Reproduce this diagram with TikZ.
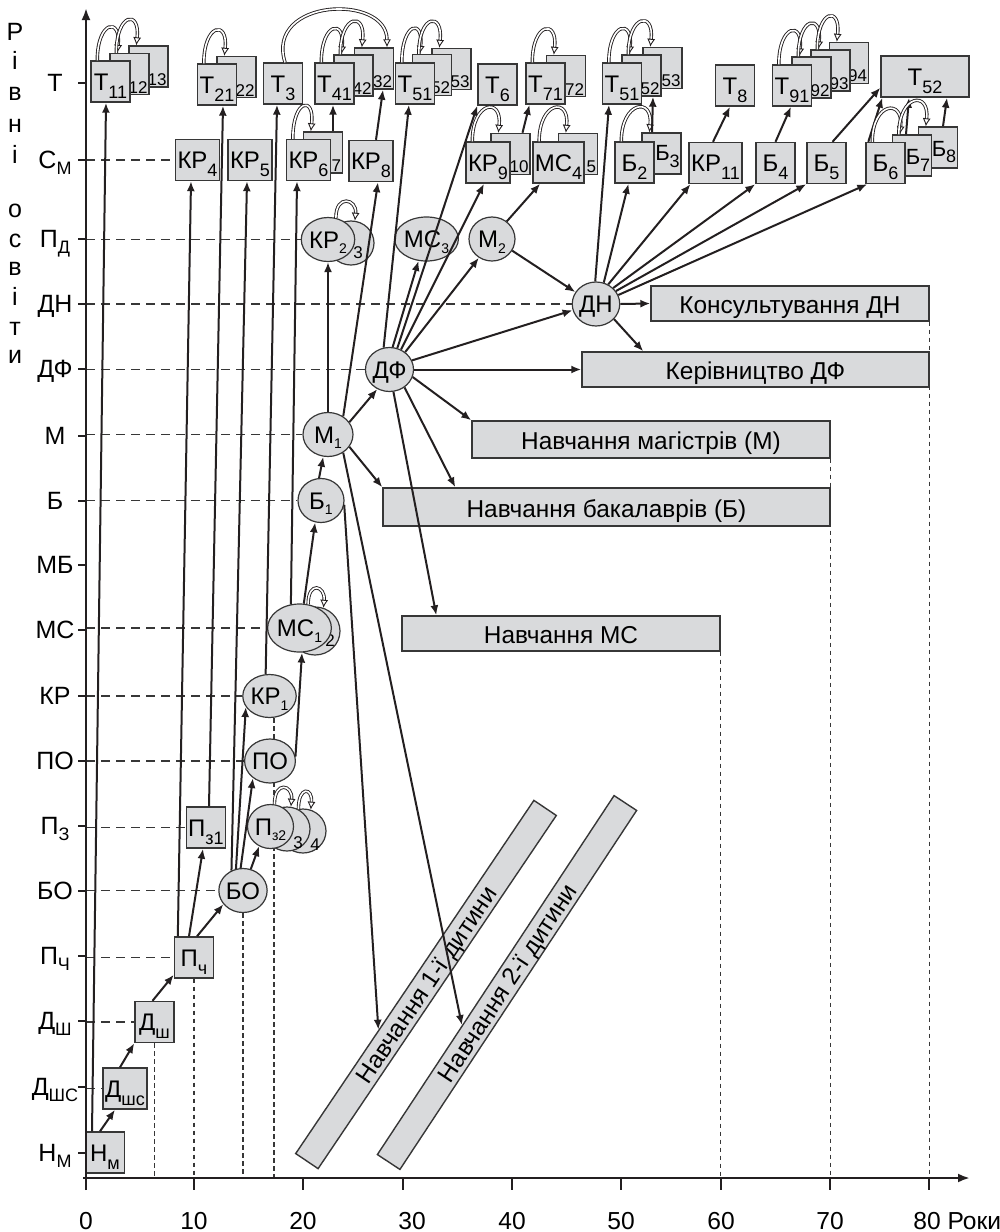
\documentclass[tikz,border=0pt]{standalone}
\usepackage{fontspec}
\setmainfont{Liberation Sans}
\usetikzlibrary{arrows.meta,shapes.geometric,calc}
\definecolor{nfill}{RGB}{217,218,220}
\definecolor{nedge}{RGB}{55,55,55}
\definecolor{ink}{RGB}{35,31,32}
\newcommand{\sbs}[1]{\raisebox{-4pt}{\fontsize{9}{9}\selectfont #1}}
\newcommand{\lsb}[1]{\raisebox{-3.2pt}{\fontsize{9}{9}\selectfont #1}}
\newcommand{\esb}[1]{\raisebox{-2.8pt}{\fontsize{7}{7}\selectfont #1}}
\newcommand{\bloop}[2]{\draw[selfloop] ([xshift=3.5pt]#1.north west) .. controls +(0,-40) and +(4,-36) .. ([xshift=4pt]#2.north west);}
\newcommand{\sloop}[2]{\draw[selfloop] (#1) .. controls +(0,-24) and +(2,-22) .. (#2);}
\pgfdeclarelayer{bg}
\pgfsetlayers{bg,main}
\begin{document}
\begin{tikzpicture}[x=0.5pt,y=-0.5pt,
 box/.style={draw=nedge, fill=nfill, line width=0.7pt, minimum width=19.5pt, minimum height=20.5pt, inner sep=1pt, text height=8.6pt, text depth=0pt, font=\fontsize{12}{12}\selectfont},
 ell/.style={ellipse, draw=nedge, fill=nfill, line width=0.6pt, minimum width=23pt, minimum height=22pt, inner sep=0pt, text height=8.6pt, text depth=0pt, font=\fontsize{12}{12}\selectfont},
 wide/.style={draw=nedge, fill=nfill, line width=0.7pt, inner sep=0pt, text height=10pt, text depth=0pt, font=\fontsize{12.2}{12.2}\selectfont},
 conn/.style={draw=ink, line width=1pt, -{Latex[length=5pt,width=4pt]}},
 lvl/.style={draw=nedge, line width=0.55pt, dash pattern=on 4.5pt off 3pt},
 vdot/.style={draw=nedge, line width=0.55pt, dash pattern=on 2.2pt off 1.8pt},
 selfloop/.style={draw=ink, line width=0.45pt, double=white, double distance=0.8pt, -{Latex[open,length=4pt,width=4pt]}},
 shlab/.style={inner sep=0.9pt, font=\fontsize{8.5}{8.5}\selectfont},
 sidelab/.style={inner sep=0.8pt, anchor=east, font=\fontsize{11}{11}\selectfont},
 lvltxt/.style={anchor=base, inner sep=0pt, font=\fontsize{12.5}{12.5}\selectfont},
 axis/.style={draw=ink, line width=1.4pt},
 tick/.style={draw=ink, line width=0.8pt}]
\useasboundingbox (0,0) rectangle (1000,1232);

% ---------- T row ----------
\node[box] (t13) at (148.5,66.5) {};
\node[shlab,anchor=south east] (t13l) at (t13.south east) {13};
\node[box] (t12) at (129.5,74) {};
\node[shlab,anchor=south east] (t12l) at (t12.south east) {12};
\node[box] (t11) at (110.5,81.5) {Т\sbs{11}};

\node[box] (t22) at (236.5,77) {};
\node[shlab,anchor=south east] (t22l) at (t22.south east) {22};
\node[box] (t21) at (217,84.5) {Т\sbs{21}};

\node[box] (t3) at (283,83.5) {Т\sbs{3}};

\node[box] (t32) at (374,68.5) {};
\node[shlab,anchor=south east] (t32l) at (t32.south east) {32};
\node[box] (t42) at (353.5,75.5) {};
\node[shlab,anchor=south east] (t42l) at (t42.south east) {42};
\node[box] (t41) at (334.5,83.5) {Т\sbs{41}};

\node[box] (t53a) at (451.5,69) {};
\node[shlab,anchor=south east] (t53al) at (t53a.south east) {53};
\node[box] (t52a) at (432,75) {};
\node[shlab,anchor=south east] (t52al) at (t52a.south east) {52};
\node[box] (t51a) at (415,83.5) {Т\sbs{51}};

\node[box] (t6) at (497.5,84.5) {Т\sbs{6}};

\node[box] (t72) at (566,76) {};
\node[shlab,anchor=south east] (t72l) at (t72.south east) {72};
\node[box] (t71) at (545.5,83.5) {Т\sbs{71}};

\node[box] (t53b) at (662.5,68) {};
\node[shlab,anchor=south east] (t53bl) at (t53b.south east) {53};
\node[box] (t52b) at (641.5,75.5) {};
\node[shlab,anchor=south east] (t52bl) at (t52b.south east) {52};
\node[box] (t51b) at (622,83.5) {Т\sbs{51}};

\node[box] (t8) at (735,85.5) {Т\sbs{8}};

\node[box] (t94) at (849,63) {};
\node[shlab,anchor=south east] (t94l) at (t94.south east) {94};
\node[box] (t93) at (830.5,70.5) {};
\node[shlab,anchor=south east] (t93l) at (t93.south east) {93};
\node[box] (t92) at (811.5,77.5) {};
\node[shlab,anchor=south east] (t92l) at (t92.south east) {92};
\node[box] (t91) at (792,85.5) {Т\sbs{91}};

\node[box, minimum width=44pt] (t52) at (925,76.5) {Т\sbs{52}};

% ---------- C_M row ----------
\node[box] (kr4) at (197.5,160) {КР\sbs{4}};
\node[box] (kr5) at (250,160) {КР\sbs{5}};
\node[box] (kr7) at (323,152.5) {};
\node[shlab,anchor=south east] (kr7l) at (kr7.south east) {7};
\node[box] (kr6) at (308.5,160) {КР\sbs{6}};
\node[box] (kr8) at (371,161) {КР\sbs{8}};
\node[box] (kr10) at (510.5,154) {};
\node[shlab,anchor=south east] (kr10l) at (kr10.south east) {10};
\node[box] (kr9) at (488,162.5) {КР\sbs{9}};
\node[box] (ms5) at (578,154) {};
\node[shlab,anchor=south east] (ms5l) at (ms5.south east) {5};
\node[box] (ms4) at (558.5,162.5) {МС\sbs{4}};
\node[box] (b3) at (661.5,153.5) {};
\node[sidelab] (b3l) at ([yshift=-1.5pt]b3.east) {Б\lsb{3}};
\node[box] (b2) at (634.5,162.5) {Б\sbs{2}};
\node[box] (kr11) at (715.5,163) {КР\sbs{11}};
\node[box] (b4) at (775.5,163) {Б\sbs{4}};
\node[box] (b5) at (826.5,163) {Б\sbs{5}};
\node[box] (b8) at (938,147.5) {};
\node[sidelab] (b8l) at ([yshift=-2.2pt]b8.east) {Б\lsb{8}};
\node[box] (b7) at (912,155.5) {};
\node[sidelab] (b7l) at ([yshift=-2.5pt]b7.east) {Б\lsb{7}};
\node[box] (b6) at (885.5,163) {Б\sbs{6}};

% ---------- ellipses ----------
\node[ell] (kr2s) at (351,243) {};
\node[shlab] (kr2sl) at ([xshift=3.5pt,yshift=-5pt]kr2s.center) {3};
\node[ell] (kr2) at (328,239.5) {КР\esb{2}};
\node[ell, minimum width=26pt] (ms3) at (426.5,239) {МС\esb{3}};
\node[ell] (m2) at (492,239) {М\esb{2}};
\node[ell] (dn) at (596,304) {ДН};
\node[ell] (df) at (389.5,369.5) {ДФ};
\node[ell, minimum width=25pt] (m1) at (328,434.5) {М\esb{1}};
\node[ell] (b1) at (321,500.5) {Б\esb{1}};
\node[ell, minimum width=25pt, minimum height=24pt] (ms1s) at (315,631) {};
\node[shlab] (ms1sl) at ([xshift=7.5pt,yshift=-5pt]ms1s.center) {2};
\node[ell, minimum width=25.5pt, minimum height=24pt] (ms1) at (299.5,628) {МС\esb{1}};
\node[ell, minimum width=23.5pt, minimum height=21.5pt] (kr1) at (269.5,696) {КР\esb{1}};
\node[ell] (po) at (270,761) {ПО};
\node[ell] (pz4) at (303,831) {};
\node[shlab] (pz4l) at ([xshift=6pt,yshift=-7pt]pz4.center) {4};
\node[ell] (pz3) at (287,829) {};
\node[shlab] (pz3l) at ([xshift=5.5pt,yshift=-7pt]pz3.center) {3};
\node[ell] (pz2) at (270.5,826.5) {П\esb{з2}};
\node[ell] (bo) at (243,890.5) {БО};

% ---------- lower boxes ----------
\node[box] (pz1) at (206,827.5) {П\sbs{з1}};
\node[box] (pch) at (194,957.5) {П\sbs{ч}};
\node[box] (dsh) at (154.5,1022) {Д\sbs{ш}};
\node[box] (dshs) at (125,1088.5) {Д\sbs{шс}};
\node[box] (nm) at (105,1152.5) {Н\sbs{м}};

% ---------- wide boxes ----------
\node[wide, minimum width=139pt, minimum height=17.5pt] (kons) at (790,303.5) {Консультування ДН};
\node[wide, minimum width=173.5pt, minimum height=17.5pt] (ker) at (755.5,369.5) {Керівництво ДФ};
\node[wide, minimum width=179pt, minimum height=18.5pt] (navm) at (651,439.5) {Навчання магістрів (М)};
\node[wide, minimum width=223.5pt, minimum height=19pt] (navb) at (606.5,507) {Навчання бакалаврів (Б)};
\node[wide, minimum width=159pt, minimum height=17.5pt] (navms) at (561,633.5) {Навчання МС};
\node[wide, rotate=56, minimum width=213pt, minimum height=13.5pt, text height=9pt] (band1) at (426,984.5) {Навчання 1-ї дитини};
\node[wide, rotate=56.6, minimum width=215pt, minimum height=13.5pt, text height=9pt] (band2) at (507,982.5) {Навчання 2-ї дитини};

% ---------- axes ----------
\coordinate (origin) at (86,1178);
\coordinate (yaxis) at (86,0);
\coordinate (ytip) at (86,8);
\coordinate (ybot) at (86,1190);
\coordinate (xstart) at (83,1178);
\coordinate (xtip) at (970,1178);

\begin{pgfonlayer}{bg}
\foreach \nd in {kr4,kr2,dn,df,m1,b1,ms1,kr1,po,pz1,bo,pch,dsh,dshs}
  \draw[lvl] (\nd.west -| yaxis) -- (\nd.west);
\draw[vdot] (dsh.south) -- (dsh.south |- origin);
\draw[vdot] (pch.south) -- (pch.south |- origin);
\draw[vdot] (bo.south) -- (bo.south |- origin);
\draw[vdot] ([xshift=2.25pt]kr1.south) -- ([xshift=2.25pt]kr1.south |- origin);
\draw[vdot] (navms.south east) -- (navms.south east |- origin);
\draw[vdot] (navm.south east) -- (navm.south east |- origin);
\draw[vdot] (kons.south east) -- (kons.south east |- origin);
\end{pgfonlayer}

\draw[axis, -{Latex[length=6pt,width=4.5pt]}] (ybot) -- (ytip);
\draw[axis, -{Latex[length=6pt,width=4.5pt]}] (xstart) -- (xtip);
\foreach \xx in {86,194,303,403,512,621,721,830,929}
  \draw[tick] (\xx,1178) -- (\xx,1190);
\foreach \xx/\lab [count=\i] in {86/0,194/10,303/20,412/30,512/40,621/50,721/60,830/70}
  \node[lvltxt, font=\fontsize{12.3}{12.3}\selectfont] (xl\i) at (\xx,1229) {\lab};
\node[lvltxt, font=\fontsize{12.3}{12.3}\selectfont, anchor=base west] (xl9) at (913,1229) {80 Роки};

% level labels and ticks
\foreach \yy/\txt [count=\i] in {83/Т,160/{С\lsb{М}},239/{П\lsb{Д}},304/ДН,369/ДФ,436/М,501/Б,565/МБ,630/МС,696/КР,761/ПО,826/{П\lsb{З}},891/БО,956/{П\lsb{Ч}},1021/{Д\lsb{Ш}},1087/{Д\lsb{ШС}},1153/{Н\lsb{М}}}{
  \draw[tick] (78,\yy) -- (86,\yy);
  \node[lvltxt] (lv\i) at (55,{\yy+8.5}) {\txt};
}
\foreach \ch/\yy [count=\i] in {Р/40.5,і/69,в/100,н/132,і/163,о/217,с/247,в/275,і/305,т/335,и/363}
  \node[lvltxt] (yl\i) at (15,\yy) {\ch};

% ---------- connectors ----------
\draw[conn] ([xshift=-2.5pt]nm.north) -- ([xshift=-5pt]dshs.south);
\draw[conn] ([xshift=-6.5pt]nm.north) -- ([xshift=-2.25pt]t11.south);
\draw[conn] ([xshift=-2.5pt]dshs.north) -- (dsh.south west);
\draw[conn] ([xshift=-1pt]dsh.north) -- ([yshift=2pt]pch.south west);
\draw[conn] ([xshift=1.5pt]pch.north) -- (bo.215);
\draw[conn] ([xshift=-2.5pt]pch.north) -- ([xshift=-1.5pt]pz1.south);
\draw[conn] ([xshift=2pt]pch.north west) -- ([xshift=-3.25pt]kr4.south);
\draw[conn] ([xshift=1.5pt]pz1.north) -- ([xshift=3pt]t21.south);
\draw[conn] (bo.120) -- ([xshift=-1.5pt]kr5.south);
\draw[conn] (bo.108) -- (kr1.205);
\draw[conn] (bo.96) -- (po.225);
\draw[conn] (bo.70) -- (pz2.240);
\draw[conn] (kr1.100) -- ([xshift=-3pt]t3.south);
\draw[conn] (po.10) -- ([xshift=1.25pt]ms1.south);
\draw[conn] (ms1.110) -- ([xshift=-5.75pt]kr6.south);
\draw[conn] (ms1.80) -- (b1.255);
\draw[conn] (b1.95) -- (m1.258);
\draw[conn] (m1.north) -- (kr2.south);
\draw[conn] (m1.30) -- (df.238);
\draw[conn] (m1.-30) -- (navb.north west);
\draw[conn] (m1.50) -- ([xshift=3.5pt]kr8.south);
\draw[conn] (m1.-50) -- ($(band2.north west)!0.36!(band2.north east)$);
\draw[conn] (b1.-10) -- ($(band1.north west)!0.35!(band1.north east)$);

\draw[conn] (df.105) -- ([xshift=-3pt]t51a.south);
\draw[conn] (df.82) -- (ms3.250);
\draw[conn] (df.70) -- (t6.south west);
\draw[conn] (df.60) -- ([xshift=-2pt]kr9.south);
\draw[conn] (df.48) -- (m2.235);
\draw[conn] (df.22) -- (dn.195);
\draw[conn] (df.east) -- (ker.west);
\draw[conn] (df.-18) -- (navm.north west);
\draw[conn] (df.-50) -- ([xshift=36.5pt]navb.north west);
\draw[conn] (df.-80) -- ([xshift=17.5pt]navms.north west);

\draw[conn] (m2.50) -- ([xshift=4pt]ms4.south west);
\draw[conn] (m2.-30) -- (dn.150);
\draw[conn] (dn.92) -- ([xshift=-6.5pt]t51b.south);
\draw[conn] (dn.70) -- ([xshift=-3pt]b2.south);
\draw[conn] (dn.58) -- ([xshift=1pt]kr11.south west);
\draw[conn] (dn.43) -- (b4.south west);
\draw[conn] (dn.33) -- (b5.south west);
\draw[conn] (dn.22) -- ([xshift=1pt]b6.south west);
\draw[conn] (dn.east) -- (kons.west);
\draw[conn] (dn.-40) -- ([xshift=31pt]ker.north west);

\draw[conn] ([xshift=5pt]kr7.north) -- ([xshift=-0.75pt]t41.south);
\draw[conn] ([xshift=2.5pt]kr8.north) -- ([xshift=4.5pt]t32.south);
\draw[conn] ([xshift=6pt]kr10.north) -- ([xshift=-8pt]t71.south);
\draw[conn] ([xshift=-4.75pt]b3.north) -- ([xshift=5.75pt]t52b.south);
\draw[conn] ([xshift=-1.25pt]kr11.north) -- ([xshift=-2.5pt]t8.south);
\draw[conn] (b4.north) -- ([xshift=-0.5pt]t91.south);
\draw[conn] ([xshift=3pt]b5.north) -- ([yshift=5pt]t52.south west);
\draw[conn] ([xshift=1.5pt]b6.north west) -- ([xshift=1pt]t52.south west);
\draw[conn] ([xshift=-3pt]b7.north) -- ([xshift=-8pt]t52.south);
\draw[conn] ([xshift=2.5pt]b8.north) -- ([xshift=11pt]t52.south);

% ---------- loops ----------
\bloop{t11}{t12}
\bloop{t12}{t13}
\bloop{t21}{t22}
\bloop{t41}{t42}
\bloop{t42}{t32}
\bloop{t51a}{t52a}
\bloop{t52a}{t53a}
\bloop{t71}{t72}
\bloop{t51b}{t52b}
\bloop{t52b}{t53b}
\bloop{t91}{t92}
\bloop{t92}{t93}
\bloop{t93}{t94}
\bloop{kr6}{kr7}
\bloop{kr9}{kr10}
\bloop{ms4}{ms5}
\bloop{b2}{b3}
\bloop{b6}{b7}
\bloop{b7}{b8}
\sloop{kr2.70}{kr2s.80}
\sloop{ms1.70}{ms1s.70}
\sloop{pz2.80}{pz3.80}
\sloop{pz3.60}{pz4.70}
\draw[selfloop] ([xshift=1pt]t3.north) .. controls +(-20,-64) and +(0,-54) .. ([xshift=6.5pt]t32.north);
\end{tikzpicture}
\end{document}
